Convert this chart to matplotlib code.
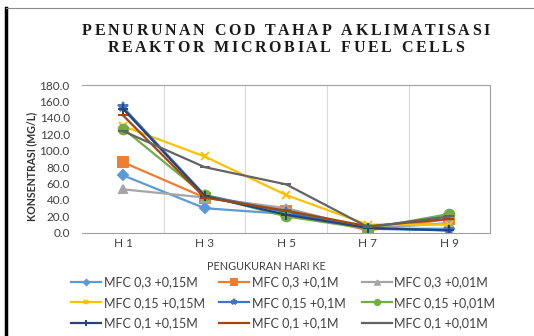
import numpy as np
import matplotlib.pyplot as plt
from matplotlib.lines import Line2D
from matplotlib.font_manager import FontProperties

# categories (measurement day)
days = ['H 1', 'H 3', 'H 5', 'H 7', 'H 9']

# COD concentration (mg/L)
mfc_03_015 = [70, 30, 23, 5, 5]
mfc_03_01 = [86, 43, 27, 3, 17]
mfc_03_001 = [53, 43, 30, 5, 12]
mfc_015_015 = [130, 93, 46, 10, 10]
mfc_015_01 = [153, 46, 25, 5, 3]
mfc_015_001 = [127, 46, 20, 5, 23]
mfc_01_015 = [151, 45, 22, 6, 3]
mfc_01_01 = [143, 43, 27, 8, 17]
mfc_01_001 = [124, 80, 59, 7, 20]

labels = ['MFC 0,3 +0,15M', 'MFC 0,3 +0,1M', 'MFC 0,3 +0,01M',
          'MFC 0,15 +0,15M', 'MFC 0,15 +0,1M', 'MFC 0,15 +0,01M',
          'MFC 0,1 +0,15M', 'MFC 0,1 +0,1M', 'MFC 0,1 +0,01M']
series = [mfc_03_015, mfc_03_01, mfc_03_001,
          mfc_015_015, mfc_015_01, mfc_015_001,
          mfc_01_015, mfc_01_01, mfc_01_001]

colors = ['#5B9BD5', '#ED7D31', '#A5A5A5', '#FFC000', '#4472C4',
          '#70AD47', '#264478', '#9E480E', '#636363']
markers = ['D', 's', '^', 'x', '*', 'o', '+', '_', '_']
msizes = [5, 7, 6, 6, 7, 7, 7, 7, 7]

title_lines = ['PENURUNAN COD TAHAP AKLIMATISASI', 'REAKTOR MICROBIAL FUEL CELLS']

plt.rcParams['font.family'] = ['Lato', 'DejaVu Sans']

fig = plt.figure(figsize=(5.34, 3.36), dpi=100)
ax = fig.add_axes([0.154, 0.307, 0.764, 0.440])

x = np.arange(len(days))
handles = []
for vals, lab, c, m, ms in zip(series, labels, colors, markers, msizes):
    h, = ax.plot(x, vals, color=c, marker=m, markersize=ms, linewidth=1.6,
                 markeredgewidth=1.4, label=lab)
    handles.append(h)

ax.set_xlim(-0.5, len(days) - 0.5)
ax.set_ylim(0, 180)
ax.set_yticks(np.arange(0, 181, 20))
ax.set_yticklabels([f'{v:.1f}' for v in np.arange(0, 181, 20)])
ax.set_xticks(x)
ax.set_xticklabels(days)
ax.set_xticks(np.arange(0.5, len(days) - 0.5, 1), minor=True)
ax.grid(which='minor', axis='x', color='#D9D9D9', linewidth=0.8)
ax.tick_params(which='both', length=0, labelsize=8.5, colors='#404040')
ax.tick_params(axis='y', pad=9)
ax.tick_params(axis='x', pad=4)

ax.spines['left'].set_visible(False)
for s in ['top', 'right', 'bottom']:
    ax.spines[s].set_color('#A0A0A0')
    ax.spines[s].set_linewidth(0.8)

ax.set_ylabel('KONSENTRASI (MG/L)', fontsize=7.6, fontweight='bold', color='#303030')
ax.yaxis.set_label_coords(-0.11, 0.446)
ax.set_xlabel('PENGUKURAN HARI KE', fontsize=7.8, color='#404040')
ax.xaxis.set_label_coords(0.451, -0.189)

# title: letter-spaced serif, drawn char by char
renderer = fig.canvas.get_renderer()
fp = FontProperties(family='Liberation Serif', weight='bold', size=11.5)
tracking = 2.6  # px between letters
W, H = fig.bbox.width, fig.bbox.height
for line, yc in zip(title_lines, [31, 48]):
    widths = []
    for ch in line:
        if ch == ' ':
            widths.append(renderer.points_to_pixels(11.5) * 0.3)
        else:
            w, _, _ = renderer.get_text_width_height_descent(ch, fp, ismath=False)
            widths.append(w)
    total = sum(widths) + tracking * (len(line) - 1)
    xpos = 286 - total / 2
    for ch, w in zip(line, widths):
        if ch != ' ':
            fig.text(xpos / W, 1 - yc / H, ch, fontproperties=fp, ha='left',
                     va='center', color='#1a1a1a')
        xpos += w + tracking

# legend: three columns placed separately, filled row by row like the original
col_x = [71, 219, 362]
for j, cx in enumerate(col_x):
    idx = [j, j + 3, j + 6]
    fig.legend([handles[i] for i in idx], [labels[i] for i in idx],
               loc='upper left', bbox_to_anchor=(cx / 534, 1 - 276 / 336),
               fontsize=9, frameon=False, handlelength=2.4, handletextpad=0.2,
               labelspacing=0.7, borderpad=0, borderaxespad=0,
               markerscale=0.55, labelcolor='#404040')

# frame around the figure: black left edge and gray top edge
fig.add_artist(Line2D([0.011, 0.011], [0.0, 0.975], color='black', linewidth=2.5))
fig.add_artist(Line2D([0.011, 1.0], [0.975, 0.975], color='#888888', linewidth=0.8))

plt.savefig('out.png', dpi=100)
plt.close()
